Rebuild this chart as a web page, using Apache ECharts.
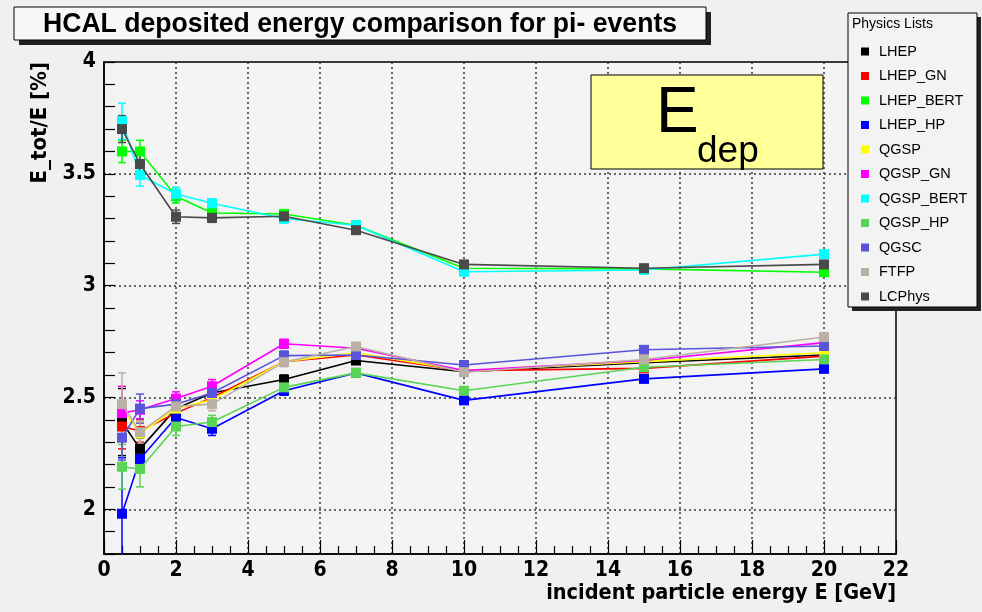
<!DOCTYPE html>
<html>
<head>
<meta charset="utf-8">
<script src="https://cdn.jsdelivr.net/npm/echarts@6/dist/echarts.min.js"></script>
<style>
html, body { margin: 0; padding: 0; background: #f0f0f0; }
#chart { width: 982px; height: 612px; }
</style>
</head>
<body>
<div id="chart"></div>
<script>
// Beam energies of the pi- runs [GeV]
const energies = [0.5, 1, 2, 3, 5, 7, 10, 15, 20];

// Deposited energy fraction E_tot/E [%] per physics list, with statistical errors
const LHEP          = [2.39, 2.27, 2.45, 2.52, 2.58, 2.665, 2.615, 2.655, 2.69];
const LHEP_err      = [0.15, 0.05, 0.03, 0.03, 0.02, 0.015, 0.015, 0.015, 0.015];
const LHEP_GN       = [2.37, 2.35, 2.43, 2.50, 2.66, 2.69, 2.62, 2.63, 2.685];
const LHEP_GN_err   = [0.10, 0.05, 0.03, 0.03, 0.02, 0.015, 0.015, 0.015, 0.015];
const LHEP_BERT     = [3.60, 3.60, 3.40, 3.325, 3.32, 3.27, 3.078, 3.075, 3.06];
const LHEP_BERT_err = [0.05, 0.05, 0.03, 0.02, 0.02, 0.015, 0.015, 0.015, 0.015];
const LHEP_HP       = [1.98, 2.225, 2.41, 2.36, 2.53, 2.61, 2.487, 2.583, 2.628];
const LHEP_HP_err   = [0.25, 0.04, 0.03, 0.03, 0.02, 0.015, 0.015, 0.015, 0.015];
const QGSP          = [2.45, 2.34, 2.45, 2.49, 2.66, 2.70, 2.62, 2.66, 2.70];
const QGSP_err      = [0.10, 0.05, 0.03, 0.03, 0.02, 0.015, 0.015, 0.015, 0.015];
const QGSP_GN       = [2.43, 2.445, 2.495, 2.55, 2.74, 2.72, 2.62, 2.665, 2.745];
const QGSP_GN_err   = [0.12, 0.04, 0.03, 0.03, 0.02, 0.015, 0.015, 0.015, 0.015];
const QGSP_BERT     = [3.735, 3.495, 3.41, 3.368, 3.30, 3.27, 3.062, 3.07, 3.141];
const QGSP_BERT_err = [0.08, 0.05, 0.03, 0.02, 0.02, 0.015, 0.015, 0.015, 0.015];
const QGSP_HP       = [2.19, 2.18, 2.37, 2.39, 2.545, 2.61, 2.53, 2.635, 2.67];
const QGSP_HP_err   = [0.10, 0.08, 0.04, 0.03, 0.02, 0.015, 0.015, 0.015, 0.015];
const QGSC          = [2.32, 2.45, 2.47, 2.52, 2.687, 2.69, 2.645, 2.713, 2.73];
const QGSC_err      = [0.10, 0.065, 0.03, 0.03, 0.02, 0.015, 0.015, 0.015, 0.015];
const FTFP          = [2.47, 2.345, 2.46, 2.47, 2.658, 2.728, 2.613, 2.67, 2.77];
const FTFP_err      = [0.14, 0.05, 0.03, 0.03, 0.02, 0.015, 0.015, 0.015, 0.015];
const LCPhys        = [3.70, 3.544, 3.308, 3.303, 3.31, 3.248, 3.095, 3.078, 3.095];
const LCPhys_err    = [0.06, 0.04, 0.03, 0.02, 0.015, 0.015, 0.015, 0.015, 0.015];

const physicsLists = [
  { name: 'LHEP',      values: LHEP,      errors: LHEP_err,      color: '#000000' },
  { name: 'LHEP_GN',   values: LHEP_GN,   errors: LHEP_GN_err,   color: '#ff0000' },
  { name: 'LHEP_BERT', values: LHEP_BERT, errors: LHEP_BERT_err, color: '#00ff00' },
  { name: 'LHEP_HP',   values: LHEP_HP,   errors: LHEP_HP_err,   color: '#0000ff' },
  { name: 'QGSP',      values: QGSP,      errors: QGSP_err,      color: '#ffff00' },
  { name: 'QGSP_GN',   values: QGSP_GN,   errors: QGSP_GN_err,   color: '#ff00ff' },
  { name: 'QGSP_BERT', values: QGSP_BERT, errors: QGSP_BERT_err, color: '#00ffff' },
  { name: 'QGSP_HP',   values: QGSP_HP,   errors: QGSP_HP_err,   color: '#59d454' },
  { name: 'QGSC',      values: QGSC,      errors: QGSC_err,      color: '#5954d9' },
  { name: 'FTFP',      values: FTFP,      errors: FTFP_err,      color: '#bab0a5' },
  { name: 'LCPhys',    values: LCPhys,    errors: LCPhys_err,    color: '#4a4a4a' }
];

// Axis ranges and tick steps
const xRange = [0, 22];
const xStep = 2;
const yRange = [1.8, 4];
const yMinorStep = 0.1;
const yMajorStep = 0.5;

const boldNarrow = '"DejaVu Sans Condensed", "Liberation Sans", sans-serif';
const plain = '"Liberation Sans", Arial, sans-serif';

const chart = echarts.init(document.getElementById('chart'), null, { renderer: 'canvas' });

// One vertical error bar with end caps for every point
function errorBarRenderer(color) {
  return function (params, api) {
    const x = api.value(0);
    const lo = api.coord([x, api.value(1) - api.value(2)]);
    const hi = api.coord([x, api.value(1) + api.value(2)]);
    const cap = 4;
    const style = { stroke: color, lineWidth: 1.5 };
    return {
      type: 'group',
      children: [
        { type: 'line', shape: { x1: lo[0], y1: lo[1], x2: hi[0], y2: hi[1] }, style: style },
        { type: 'line', shape: { x1: lo[0] - cap, y1: lo[1], x2: lo[0] + cap, y2: lo[1] }, style: style },
        { type: 'line', shape: { x1: hi[0] - cap, y1: hi[1], x2: hi[0] + cap, y2: hi[1] }, style: style }
      ]
    };
  };
}

const series = [];
physicsLists.forEach(function (pl, i) {
  series.push({
    name: pl.name,
    type: 'custom',
    renderItem: errorBarRenderer(pl.color),
    data: energies.map(function (e, k) { return [e, pl.values[k], pl.errors[k]]; }),
    itemStyle: { color: pl.color },
    clip: true,
    silent: true,
    z: 2 + i * 0.01
  });
  series.push({
    name: pl.name,
    type: 'line',
    data: energies.map(function (e, k) { return [e, pl.values[k]]; }),
    color: pl.color,
    symbol: 'rect',
    symbolSize: 10,
    showAllSymbol: true,
    lineStyle: { width: 1.6, color: pl.color },
    itemStyle: { color: pl.color },
    z: 3 + i * 0.01,
    animation: false
  });
});

// dotted grid colours cycle over the 0.1 ticks: only every 0.5 is drawn
const yGridColors = [];
for (let k = 0; k < Math.round(yMajorStep / yMinorStep); k++) {
  yGridColors.push(k === 2 ? '#3a3a3a' : 'rgba(0,0,0,0)');
}

const option = {
  backgroundColor: '#f0f0f0',
  animation: false,
  grid: {
    left: 104, right: 86, top: 62, bottom: 58,
    show: true, borderColor: '#000', borderWidth: 1.5, backgroundColor: '#f3f3f3'
  },
  xAxis: {
    type: 'value',
    min: xRange[0], max: xRange[1], interval: xStep,
    axisLine: { show: true, onZero: false, lineStyle: { color: '#000', width: 1.5 } },
    axisTick: { show: true, inside: true, length: 14, lineStyle: { color: '#000', width: 1.2 } },
    minorTick: { show: true, splitNumber: 4, length: 8, lineStyle: { color: '#000', width: 1.2 } },
    splitLine: { show: true, lineStyle: { color: '#3a3a3a', type: [2, 3], width: 1.5 } },
    axisLabel: {
      color: '#000', fontFamily: boldNarrow, fontWeight: 'bold', fontSize: 21, margin: 6
    }
  },
  yAxis: {
    type: 'value',
    min: yRange[0], max: yRange[1], interval: yMinorStep,
    axisLine: { show: true, onZero: false, lineStyle: { color: '#000', width: 1.5 } },
    axisTick: { show: true, inside: true, length: 11, lineStyle: { color: '#000', width: 1.2 } },
    splitLine: { show: true, lineStyle: { color: yGridColors, type: [2, 3], width: 1.5 } },
    axisLabel: {
      color: '#000', fontFamily: boldNarrow, fontWeight: 'bold', fontSize: 21, margin: 8,
      formatter: function (v) {
        const r = v / yMajorStep;
        return Math.abs(r - Math.round(r)) < 1e-6 ? String(+v.toFixed(1)) : '';
      }
    }
  },
  legend: {
    orient: 'vertical',
    left: 861, top: 44,
    padding: 0,
    itemGap: 9.5,
    itemWidth: 8, itemHeight: 8,
    icon: 'rect',
    z: 30,
    data: physicsLists.map(function (pl) { return pl.name; }),
    textStyle: { fontFamily: plain, fontSize: 14.5, color: '#000', lineHeight: 14, padding: [0, 0, 0, 5] },
    selectedMode: false
  },
  graphic: [
    // title box with drop shadow
    { type: 'rect', shape: { x: 19, y: 12, width: 692, height: 33 }, style: { fill: '#222' }, z: 10 },
    { type: 'rect', shape: { x: 14, y: 7, width: 692, height: 33 }, style: { fill: '#f7f7f7', stroke: '#000', lineWidth: 1 }, z: 11 },
    { type: 'text', x: 360, y: 24, scaleX: 0.95, z: 12,
      style: { text: 'HCAL deposited energy comparison for pi- events', align: 'center', verticalAlign: 'middle',
               fontFamily: plain, fontWeight: 'bold', fontSize: 28, fill: '#000' } },
    // legend box with drop shadow
    { type: 'rect', shape: { x: 852, y: 17, width: 129, height: 294 }, style: { fill: '#222' }, z: 10 },
    { type: 'rect', shape: { x: 848, y: 13, width: 129, height: 294 }, style: { fill: '#f3f3f3', stroke: '#000', lineWidth: 1 }, z: 11 },
    { type: 'text', x: 852, y: 24, z: 12,
      style: { text: 'Physics Lists', align: 'left', verticalAlign: 'middle', fontFamily: plain, fontSize: 14, fill: '#000' } },
    // E_dep label box
    { type: 'rect', shape: { x: 591, y: 75, width: 232, height: 94 }, style: { fill: '#ffff99', stroke: '#000', lineWidth: 1 }, z: 10 },
    { type: 'text', x: 656, y: 82, z: 11,
      style: { text: 'E', align: 'left', verticalAlign: 'top', fontFamily: plain, fontSize: 64, fill: '#000' } },
    { type: 'text', x: 697, y: 133, z: 11,
      style: { text: 'dep', align: 'left', verticalAlign: 'top', fontFamily: plain, fontSize: 37, fill: '#000' } },
    // axis titles
    { type: 'text', x: 896, y: 593, z: 11,
      style: { text: 'incident particle energy E [GeV]', align: 'right', verticalAlign: 'middle',
               fontFamily: boldNarrow, fontWeight: 'bold', fontSize: 21.5, fill: '#000' } },
    { type: 'text', x: 40, y: 62, rotation: Math.PI / 2, z: 11,
      style: { text: 'E_tot/E [%]', align: 'right', verticalAlign: 'middle',
               fontFamily: boldNarrow, fontWeight: 'bold', fontSize: 22, fill: '#000' } }
  ],
  series: series
};

chart.setOption(option);
</script>
</body>
</html>
